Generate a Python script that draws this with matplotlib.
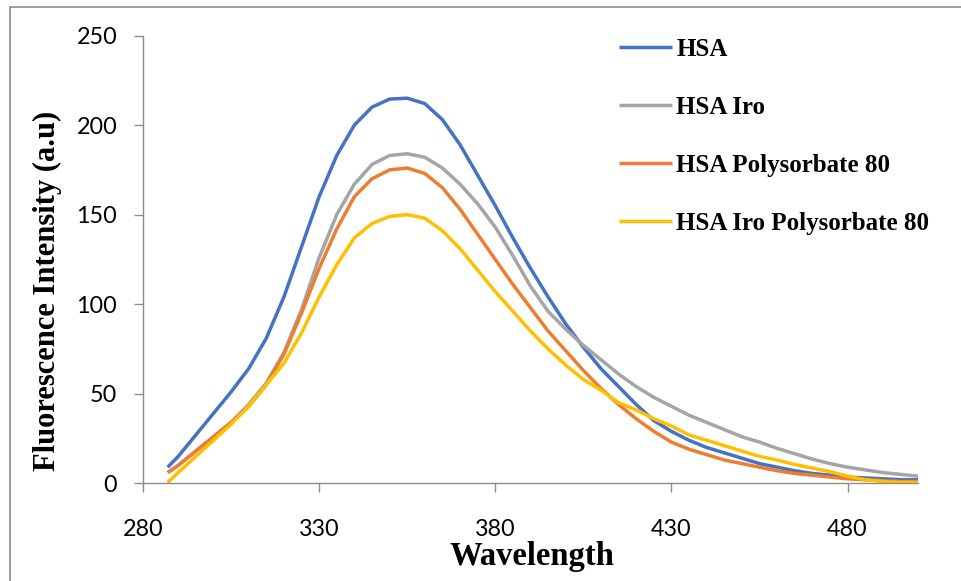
import matplotlib
matplotlib.use("Agg")
import matplotlib.pyplot as plt
from matplotlib.patches import Rectangle

# Emission wavelengths (nm)
wavelength = [287, 290, 295, 300, 305, 310, 315, 320, 325, 330, 335, 340, 345,
              350, 355, 360, 365, 370, 375, 380, 385, 390, 395, 400, 405, 410,
              415, 420, 425, 430, 435, 440, 445, 450, 455, 460, 465, 470, 475,
              480, 485, 490, 495, 500]

# Fluorescence intensity (a.u)
hsa = [9, 15, 27, 39, 51, 64, 81, 104, 132, 160, 183, 200, 210,
       214.5, 215, 212, 203, 189, 172, 155, 137, 120, 104, 89, 76, 64,
       54, 44, 35, 29, 24, 20, 17, 14, 11, 9, 7, 5.5, 4.5,
       3.5, 3, 2.5, 2, 2]
hsa_iro = [6, 10, 18, 26, 34, 44, 56, 73, 97, 126, 150, 167, 178,
           183, 184, 182, 176, 167, 156, 143, 127, 110, 96, 86, 77, 69,
           61, 54, 48, 43, 38, 34, 30, 26, 23, 19.5, 16.5, 13.5, 11,
           9, 7.5, 6, 5, 4]
hsa_poly = [6, 10, 18, 26, 34, 43, 55, 72, 95, 120, 142, 160, 170,
            175, 176, 173, 165, 153, 139, 125, 111, 98, 85, 74, 63, 53,
            44, 36, 29, 23, 19, 16, 13, 11, 9, 7, 5.5, 4.5, 3.5,
            2.5, 2, 1.5, 1, 1]
hsa_iro_poly = [0.5, 6, 15, 24, 33, 43, 55, 67, 84, 104, 122, 137, 145,
                149, 150, 148, 141, 131, 119, 107, 96, 85, 75, 66, 58, 52,
                45, 41, 36, 32, 27, 24, 21, 18, 15, 13, 10.5, 8.5, 6.5,
                4, 2, 1, 0.5, 0.5]

series = [
    ("HSA", hsa, "#4472C4"),
    ("HSA Iro", hsa_iro, "#A5A5A5"),
    ("HSA Polysorbate 80", hsa_poly, "#ED7D31"),
    ("HSA Iro Polysorbate 80", hsa_iro_poly, "#FFC000"),
]

x_ticks = [280, 330, 380, 430, 480]
y_ticks = [0, 50, 100, 150, 200, 250]

W, H = 961, 581
fig = plt.figure(figsize=(W / 100, H / 100), dpi=100)
ax = fig.add_axes([143 / W, 1 - 483.3 / H, (918 - 143) / W, (483.3 - 35.5) / H])

for label, values, color in series:
    ax.plot(wavelength, values, color=color, lw=2.5, label=label,
            solid_capstyle="butt", solid_joinstyle="round")

ax.set_xlim(280, 500)
ax.set_ylim(0, 250)
ax.set_xticks(x_ticks)
ax.set_yticks(y_ticks)

for side in ("top", "right"):
    ax.spines[side].set_visible(False)
for side in ("left", "bottom"):
    ax.spines[side].set_color("#8C8C8C")
    ax.spines[side].set_linewidth(1.0)

ax.tick_params(axis="both", direction="out", length=6.5, width=1.0,
               color="#8C8C8C", labelcolor="black")
ax.tick_params(axis="x", pad=19)
ax.tick_params(axis="y", pad=12)
for lab in ax.get_xticklabels() + ax.get_yticklabels():
    lab.set_fontfamily("Lato")
    lab.set_fontsize(16.8)

fig.text(47 / W, 1 - 291 / H, "Fluorescence Intensity (a.u)", rotation=90,
         ha="center", va="center", family="Liberation Serif",
         fontweight="bold", fontsize=22)
fig.text(531.5 / W, 1 - 565 / H, "Wavelength", ha="center", va="baseline",
         family="Liberation Serif", fontweight="bold", fontsize=23.5)

ax.legend(loc="upper left", bbox_to_anchor=(619 / W, 1 - 38 / H),
          bbox_transform=fig.transFigure, frameon=False, borderpad=0,
          borderaxespad=0, handlelength=2.1, handletextpad=0.2,
          labelspacing=1.4,
          prop={"family": "Liberation Serif", "weight": "bold", "size": 18})

# outer chart-area border (top and left edges visible)
fig.add_artist(Rectangle((10 / W, -0.1), 1.2, 1 - 7 / H + 0.1, fill=False,
                         edgecolor="#8C8C8C", lw=1.2,
                         transform=fig.transFigure))

fig.savefig("out.png", dpi=100)
